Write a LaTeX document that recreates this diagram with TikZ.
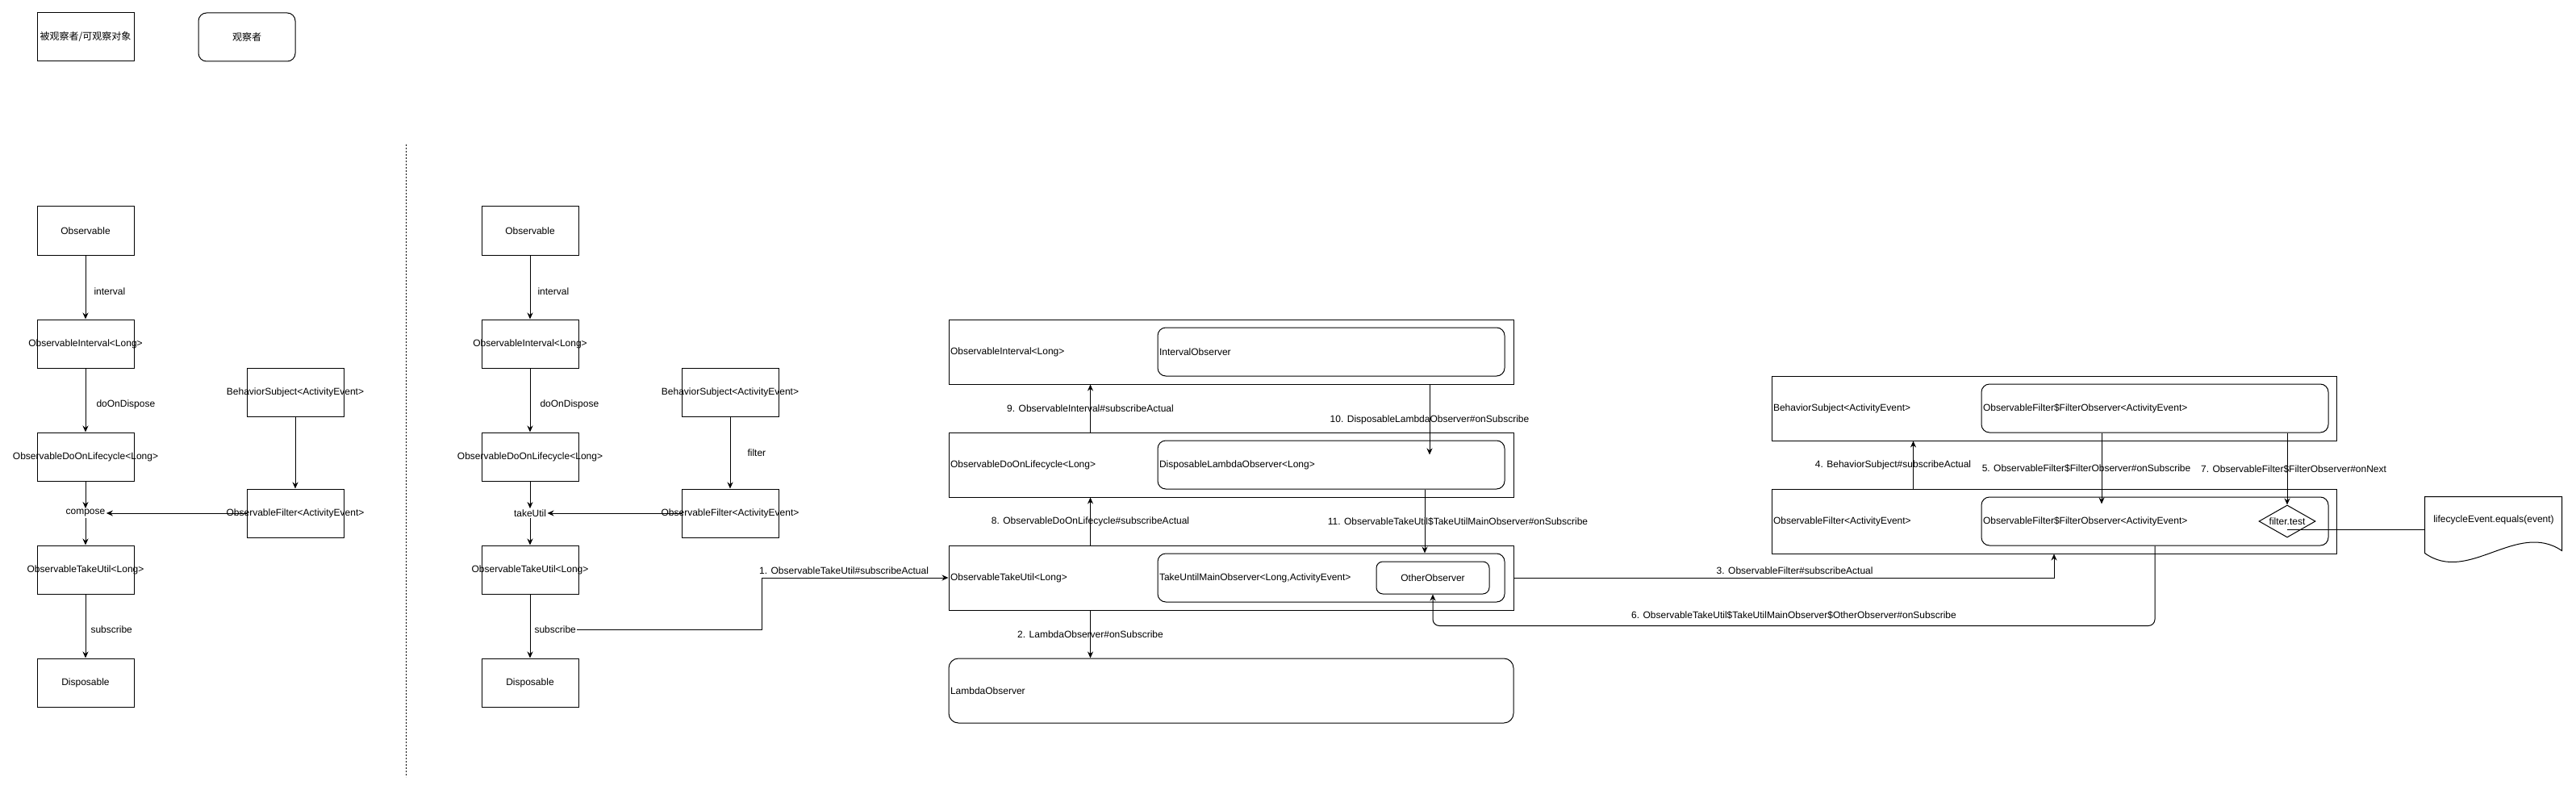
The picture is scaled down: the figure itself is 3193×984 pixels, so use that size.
\documentclass[tikz,border=0pt]{standalone}
\usepackage{fontspec}
\setmainfont{Liberation Sans}
\newfontfamily\cjk{Noto Sans CJK SC}
\usetikzlibrary{arrows.meta,shapes.geometric,positioning}
\newcommand{\wide}[1]{\makebox[0pt]{#1}}

\begin{document}
\begin{tikzpicture}[x=1pt, y=-1pt, >={Stealth[length=8pt,width=7pt]},
  line width=1pt, font=\fontsize{12}{14}\selectfont,
  obs/.style={draw, minimum width=120pt, minimum height=60pt, inner sep=0pt},
  obv/.style={obs, rounded corners=10pt},
  big/.style={draw, minimum width=700pt, minimum height=80pt, text width=696pt, inner xsep=2pt, align=left},
  inner/.style={draw, rounded corners=10pt, minimum width=430pt, minimum height=60pt, text width=426pt, inner xsep=2pt, align=left},
  lbl/.style={inner sep=1pt}
]
  \useasboundingbox (0,0) rectangle (3193,984);

  % legend
  \node[obs] (legObs) at (106,46) {\cjk 被观察者/可观察对象};
  \node[obv] (legObv) at (306,46) {\cjk 观察者};

  % left chain
  \node[obs] (obsA) at (106,286) {Observable};
  \node[obs] (intA) at (106,426) {\wide{ObservableInterval<Long>}};
  \node[obs] (docA) at (106,566) {\wide{ObservableDoOnLifecycle<Long>}};
  \node[lbl] (composeA) at (106,636) {compose};
  \node[obs] (takeA) at (106,706) {\wide{ObservableTakeUtil<Long>}};
  \node[obs] (dispA) at (106,846) {Disposable};
  \node[obs] (bsA) at (366,486) {\wide{BehaviorSubject<ActivityEvent>}};
  \node[obs] (filA) at (366,636) {\wide{ObservableFilter<ActivityEvent>}};

  \draw[->] (obsA) -- node[lbl, right=9pt, yshift=-5pt] (lIntA) {interval} (intA);
  \draw[->] (intA) -- node[lbl, right=12pt, yshift=-5pt] (lDoA) {doOnDispose} (docA);
  \draw[->] (docA) -- (composeA);
  \draw[->] (composeA) -- (takeA);
  \draw[->] (takeA) -- node[lbl, right=5pt, yshift=-4pt] (lSubA) {subscribe} (dispA);
  \draw[->] (bsA) -- (filA);
  \draw[->] (filA) -- (composeA);

  \draw[dash pattern=on 2pt off 2pt] (503,179) -- (503,963);

  % middle chain
  \node[obs] (obsB) at (657,286) {Observable};
  \node[obs] (intB) at (657,426) {\wide{ObservableInterval<Long>}};
  \node[obs] (docB) at (657,566) {\wide{ObservableDoOnLifecycle<Long>}};
  \node[lbl] (takeUtilB) at (657,636) {takeUtil};
  \node[obs] (takeB) at (657,706) {\wide{ObservableTakeUtil<Long>}};
  \node[obs] (dispB) at (657,846) {Disposable};
  \node[obs] (bsB) at (905,486) {\wide{BehaviorSubject<ActivityEvent>}};
  \node[obs] (filB) at (905,636) {\wide{ObservableFilter<ActivityEvent>}};

  \draw[->] (obsB) -- node[lbl, right=8pt, yshift=-5pt] (lIntB) {interval} (intB);
  \draw[->] (intB) -- node[lbl, right=11pt, yshift=-5pt] (lDoB) {doOnDispose} (docB);
  \draw[->] (docB) -- (takeUtilB);
  \draw[->] (takeUtilB) -- (takeB);
  \draw[->] (takeB) -- node[lbl, right=4pt, yshift=-4pt] (lSubB) {subscribe} (dispB);
  \draw[->] (bsB) -- node[lbl, right=20pt] (lFilB) {filter} (filB);
  \draw[->] (filB) -- (takeUtilB);

  % subscribe flow
  \node[big] (bigInt) at (1526,436) {ObservableInterval<Long>};
  \node[inner] (inInt) at (1650,436) {IntervalObserver};
  \node[big] (bigDoc) at (1526,576) {ObservableDoOnLifecycle<Long>};
  \node[inner] (inDoc) at (1650,576) {DisposableLambdaObserver<Long>};
  \node[big] (bigTake) at (1526,716) {ObservableTakeUtil<Long>};
  \node[inner] (inTake) at (1650,716) {TakeUntilMainObserver<Long,ActivityEvent>};
  \node[draw, rounded corners=8pt, minimum width=140pt, minimum height=40pt] (other) at (1776,716) {OtherObserver};
  \node[big, rounded corners=12pt] (lambda) at (1526,856) {LambdaObserver};

  \node[big] (bigBS) at (2546,506) {BehaviorSubject<ActivityEvent>};
  \node[inner] (inBS) at (2671,506) {ObservableFilter\$FilterObserver<ActivityEvent>};
  \node[big] (bigFil) at (2546,646) {ObservableFilter<ActivityEvent>};
  \node[inner] (inFil) at (2671,646) {ObservableFilter\$FilterObserver<ActivityEvent>};
  \node[draw, diamond, minimum width=70pt, minimum height=40pt, inner sep=0pt] (ftest) at (2835,646) {\wide{filter.test}};
  \node[minimum width=170pt, minimum height=80pt] (lce) at (3091,656) {};
  \draw[shift={(lce.north west)}] (0,0) -- (170,0) -- (170,67) .. controls (114,29) and (54,109) .. (0,70) -- cycle;
  \node (lceText) at ([yshift=12pt]lce.center) {lifecycleEvent.equals(event)};

  \draw[->] (lSubB.east) -- ++(229,0) |- node[lbl, pos=0.72, above=3pt] (l1) {1. ObservableTakeUtil\#subscribeActual} (bigTake.west);
  \draw[->] ([xshift=176pt]bigTake.south west) -- node[lbl] (l2) {2. LambdaObserver\#onSubscribe} ([xshift=176pt]lambda.north west);
  \draw[->] (bigTake.east) -| node[lbl, pos=0.26, above=3pt] (l3) {3. ObservableFilter\#subscribeActual} (bigFil.south);
  \draw[->] ([xshift=176pt]bigFil.north west) -- node[lbl, xshift=-25pt] (l4) {4. BehaviorSubject\#subscribeActual} ([xshift=176pt]bigBS.south west);
  \draw[->] ([xshift=-66pt]inBS.south) -- node[lbl, xshift=-19pt] (l5) {5. ObservableFilter\$FilterObserver\#onSubscribe} ([xshift=-66pt,yshift=-9pt]inFil.north);
  \draw[->, rounded corners=8pt] (inFil.south) -- ++(0,99) -| node[lbl, pos=0.25, above=7pt] (l6) {6. ObservableTakeUtil\$TakeUtilMainObserver\$OtherObserver\#onSubscribe} (other.south);
  \draw[->] (inBS.south -| ftest.north) -- node[lbl, xshift=8pt] (l7) {7. ObservableFilter\$FilterObserver\#onNext} (ftest.north);
  \draw[->] ([xshift=176pt]bigTake.north west) -- node[lbl] (l8) {8. ObservableDoOnLifecycle\#subscribeActual} ([xshift=176pt]bigDoc.south west);
  \draw[->] ([xshift=176pt]bigDoc.north west) -- node[lbl] (l9) {9. ObservableInterval\#subscribeActual} ([xshift=176pt]bigInt.south west);
  \draw[->] ([xshift=246pt]bigInt.south) -- node[lbl] (l10) {10. DisposableLambdaObserver\#onSubscribe} ([xshift=122pt,yshift=-18pt]inDoc.north);
  \draw[->] ([xshift=116pt]inDoc.south) -- node[lbl, xshift=41pt] (l11) {11. ObservableTakeUtil\$TakeUtilMainObserver\#onSubscribe} ([xshift=116pt]inTake.north);
  \draw (lce.west -| ftest.center) -- (lce.west);
\end{tikzpicture}
\end{document}
